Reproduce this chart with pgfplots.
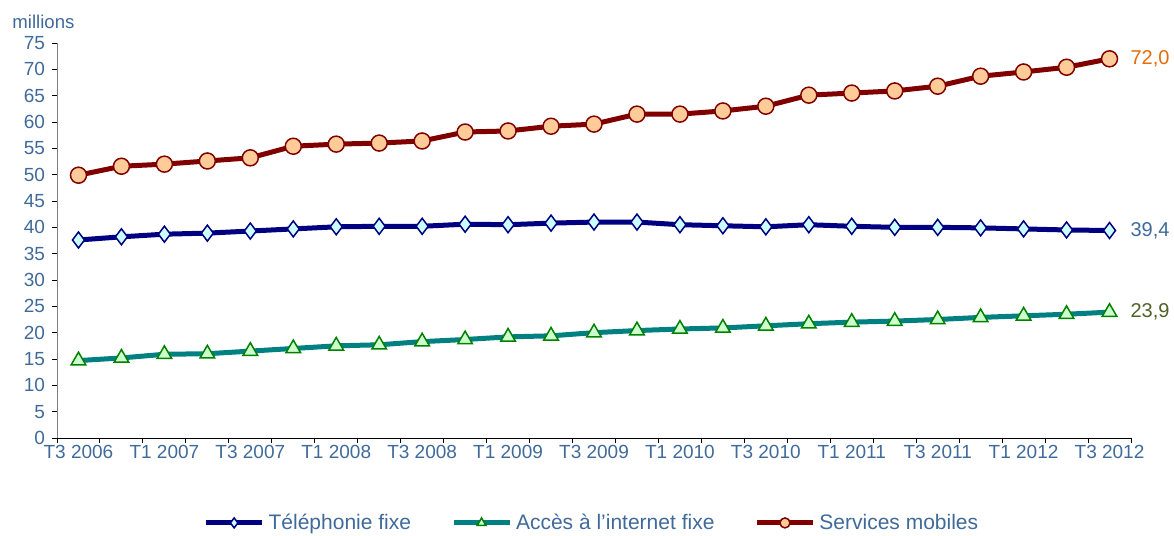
\documentclass[border=0pt]{standalone}
\usepackage{fontspec}
\setmainfont{Liberation Sans}
\usepackage{pgfplots}
\pgfplotsset{compat=1.18}

\definecolor{txtblue}{HTML}{3F6A9A}
\definecolor{mobline}{HTML}{800000}
\definecolor{mobfill}{HTML}{FFCC99}
\definecolor{fixline}{HTML}{000080}
\definecolor{fixfill}{HTML}{CCFFFF}
\definecolor{netline}{HTML}{008080}
\definecolor{netmark}{HTML}{008000}
\definecolor{netfill}{HTML}{CCFFCC}
\definecolor{orangelbl}{HTML}{E46C0A}
\definecolor{greenlbl}{HTML}{4F6228}

\begin{document}
\begin{tikzpicture}
\useasboundingbox (0,0) rectangle (587pt,268pt);
\begin{axis}[
    at={(28.5pt,49pt)}, anchor=south west,
    width=537pt, height=197.5pt, scale only axis,
    xmin=-0.5, xmax=24.5, ymin=0, ymax=75,
    axis x line=bottom, axis y line=left,
    axis line style={-},
    y axis line style={gray},
    ytick={0,5,...,75},
    xtick={-0.5,0.5,...,24.5}, xticklabels={},
    extra x ticks={0,2,...,24},
    extra x tick labels={T3 2006,T1 2007,T3 2007,T1 2008,T3 2008,T1 2009,T3 2009,T1 2010,T3 2010,T1 2011,T3 2011,T1 2012,T3 2012},
    extra x tick style={major tick length=0pt},
    tick align=outside, major tick length=2.5pt,
    tick style={black, line width=0.5pt},
    ticklabel style={font=\fontsize{9.5}{11}\selectfont, text=txtblue},
    /pgf/number format/assume math mode=true,
    clip=false,
    legend columns=3,
    legend style={draw=none, at={(0.499,-0.215)}, anchor=center,
        font=\fontsize{10.5}{12}\selectfont, text=txtblue,
        /tikz/every even column/.append style={column sep=18pt}},
    legend image code/.code={\draw[mark repeat=2,mark phase=2,#1,mark size=2.5pt] plot coordinates {(0pt,0pt) (14pt,0pt) (28pt,0pt)};},
]
\addplot[fixline, line width=2.5pt, mark=diamond*, mark size=4pt,
    mark options={fill=fixfill, draw=fixline, line width=0.75pt}] coordinates {
(0,37.6)(1,38.2)(2,38.7)(3,38.9)(4,39.3)(5,39.7)(6,40.1)(7,40.2)(8,40.2)(9,40.6)
(10,40.5)(11,40.8)(12,41.0)(13,41.0)(14,40.5)(15,40.3)(16,40.1)(17,40.5)(18,40.2)
(19,40.0)(20,40.0)(21,39.9)(22,39.7)(23,39.5)(24,39.4)};
\addlegendentry{Téléphonie fixe}
\addplot[netline, line width=2.5pt, mark=triangle*, mark size=4.2pt,
    mark options={fill=netfill, draw=netmark, line width=0.75pt}] coordinates {
(0,14.7)(1,15.2)(2,15.9)(3,16.0)(4,16.5)(5,17.0)(6,17.5)(7,17.7)(8,18.3)(9,18.7)
(10,19.2)(11,19.4)(12,20.0)(13,20.4)(14,20.7)(15,20.9)(16,21.3)(17,21.7)(18,22.0)
(19,22.2)(20,22.5)(21,22.9)(22,23.2)(23,23.5)(24,23.9)};
\addlegendentry{Accès à l'internet fixe}
\addplot[mobline, line width=2.5pt, mark=*, mark size=4pt,
    mark options={fill=mobfill, draw=mobline, line width=0.75pt}] coordinates {
(0,49.9)(1,51.6)(2,52.0)(3,52.6)(4,53.2)(5,55.4)(6,55.8)(7,56.0)(8,56.4)(9,58.1)
(10,58.3)(11,59.2)(12,59.6)(13,61.5)(14,61.5)(15,62.1)(16,63.0)(17,65.1)(18,65.5)
(19,65.9)(20,66.8)(21,68.7)(22,69.5)(23,70.4)(24,72.0)};
\addlegendentry{Services mobiles}
\node[anchor=west, text=orangelbl, font=\fontsize{10}{12}\selectfont, xshift=7pt] at (axis cs:24,72.0) {72,0};
\node[anchor=west, text=txtblue, font=\fontsize{10}{12}\selectfont, xshift=7pt] at (axis cs:24,39.4) {39,4};
\node[anchor=west, text=greenlbl, font=\fontsize{10}{12}\selectfont, xshift=7pt] at (axis cs:24,23.9) {23,9};
\end{axis}
\node[anchor=west, text=txtblue, font=\fontsize{9.3}{11}\selectfont, inner sep=0pt] at (6pt,257pt) {millions};
\end{tikzpicture}
\end{document}
